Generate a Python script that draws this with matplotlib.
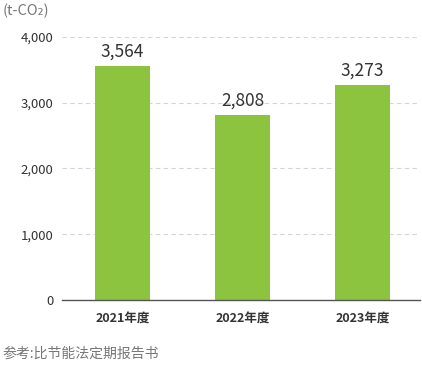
import matplotlib
matplotlib.use("Agg")
import matplotlib.pyplot as plt

plt.rcParams['font.family'] = ['Noto Sans CJK SC', 'DejaVu Sans']

years = ["2021年度", "2022年度", "2023年度"]
values = [3564, 2808, 3273]
yticks = [0, 1000, 2000, 3000, 4000]

fig = plt.figure(figsize=(4.22, 3.65), dpi=100)
ax = fig.add_axes([62/422, 65/365, 358/422, 263/365])

x = range(len(years))
ax.bar(x, values, width=0.458, color="#8cc43f", zorder=3)
for i, v in zip(x, values):
    ax.text(i, v + 80, f"{v:,}", ha="center", va="bottom", fontsize=12.5, color="#333333")

ax.set_xlim(-0.504, 2.48)
ax.set_ylim(0, 4000)
ax.set_yticks(yticks)
ax.set_yticklabels([f"{t:,}" for t in yticks], fontsize=9.5, color="#333333")
ax.set_xticks(list(x))
ax.set_xticklabels(years, fontsize=9, color="#333333", fontweight="bold")
ax.tick_params(axis="both", length=0)
ax.tick_params(axis="y", pad=6)
ax.tick_params(axis="x", pad=9)
ax.grid(axis="y", color="#d5d5d5", linestyle=(0, (4, 3)), linewidth=0.8, zorder=0)
for s in ["top", "right", "left"]:
    ax.spines[s].set_visible(False)
ax.spines["bottom"].set_color("#555555")
ax.spines["bottom"].set_linewidth(1.0)
ax.spines["bottom"].set_zorder(4)

fig.text(3/422, 1 - 11/365, "(t-CO₂)", fontsize=10.5, color="#777777", va="center", ha="left")
fig.text(2/422, 1 - 354/365, "参考:比节能法定期报告书", fontsize=10, color="#777777", va="center", ha="left")

fig.savefig("out.png", dpi=100)
